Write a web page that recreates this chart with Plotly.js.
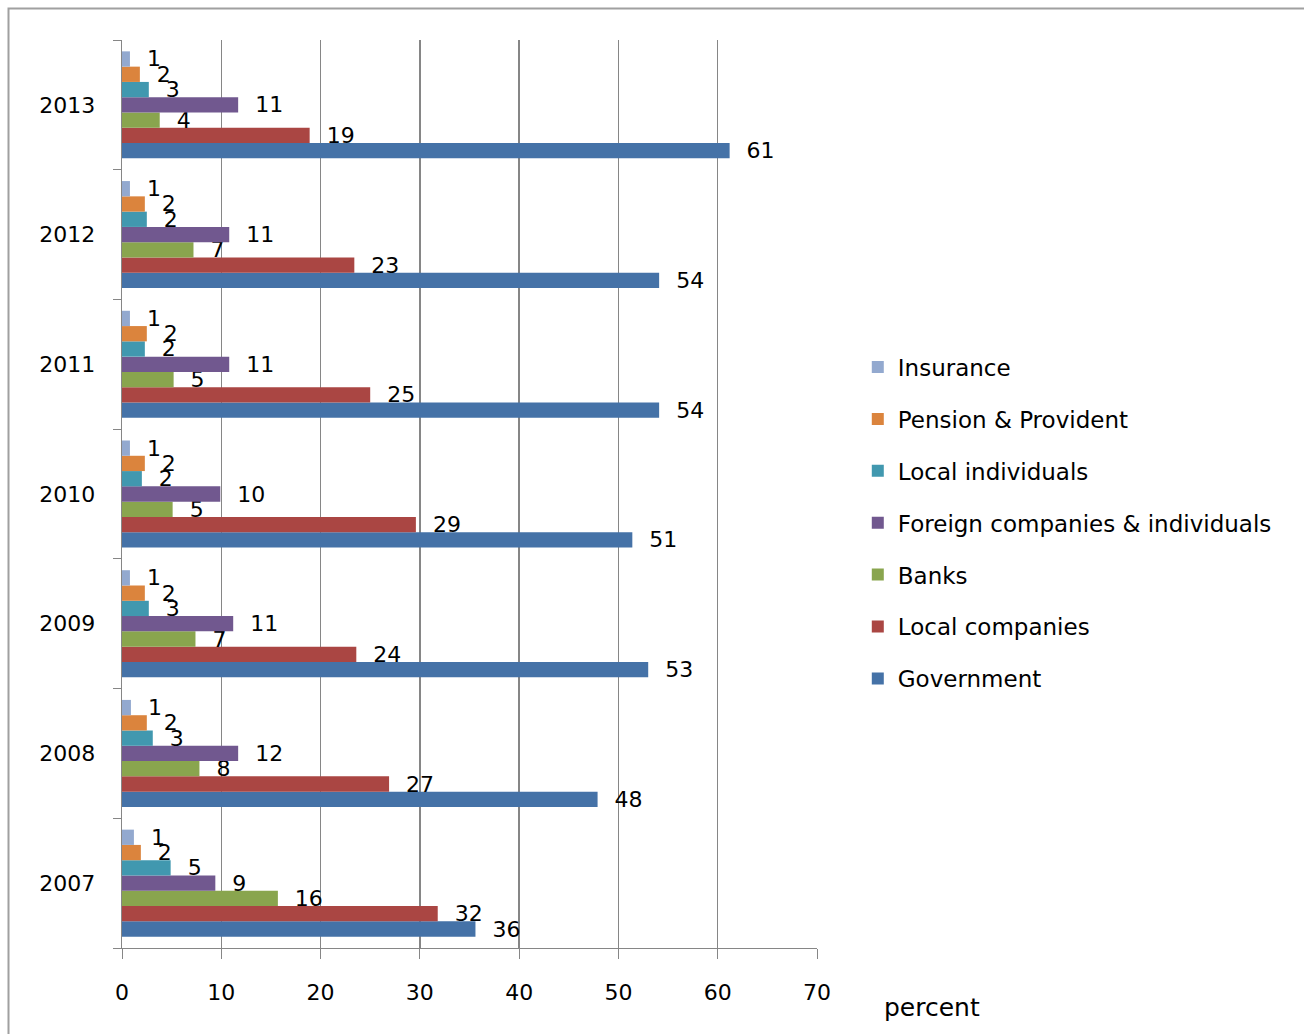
<!DOCTYPE html>
<html>
<head>
<meta charset="utf-8">
<script src="https://cdn.plot.ly/plotly-3.0.1.min.js"></script>
<style>
  html, body { margin: 0; padding: 0; background: #ffffff; }
  #chart { width: 1304px; height: 1034px; }
</style>
</head>
<body>
<div id="chart"></div>
<script>
// Categories (bottom to top)
const years = ['2007', '2008', '2009', '2010', '2011', '2012', '2013'];

// Bar lengths (percent)
const government       = [35.6, 47.9, 53.0, 51.4, 54.1, 54.1, 61.2];
const localCompanies   = [31.8, 26.9, 23.6, 29.6, 25.0, 23.4, 18.9];
const banks            = [15.7, 7.8, 7.4, 5.1, 5.2, 7.2, 3.8];
const foreign          = [9.4, 11.7, 11.2, 9.9, 10.8, 10.8, 11.7];
const localIndividuals = [4.9, 3.1, 2.7, 2.0, 2.3, 2.5, 2.7];
const pension          = [1.9, 2.5, 2.3, 2.3, 2.5, 2.3, 1.8];
const insurance        = [1.2, 0.9, 0.8, 0.8, 0.8, 0.8, 0.8];

// Data labels as printed on the chart
const governmentLabels       = [36, 48, 53, 51, 54, 54, 61];
const localCompaniesLabels   = [32, 27, 24, 29, 25, 23, 19];
const banksLabels            = [16, 8, 7, 5, 5, 7, 4];
const foreignLabels          = [9, 12, 11, 10, 11, 11, 11];
const localIndividualsLabels = [5, 3, 3, 2, 2, 2, 3];
const pensionLabels          = [2, 2, 2, 2, 2, 2, 2];
const insuranceLabels        = [1, 1, 1, 1, 1, 1, 1];

// Tick values
const xTicks = [0, 10, 20, 30, 40, 50, 60, 70];

const FONT = 'DejaVu Sans, Verdana, sans-serif';

const seriesDefs = [
  { name: 'Government', x: government, labels: governmentLabels, color: '#4572A7' },
  { name: 'Local companies', x: localCompanies, labels: localCompaniesLabels, color: '#AA4643' },
  { name: 'Banks', x: banks, labels: banksLabels, color: '#89A54E' },
  { name: 'Foreign companies &amp; individuals', x: foreign, labels: foreignLabels, color: '#71588F' },
  { name: 'Local individuals', x: localIndividuals, labels: localIndividualsLabels, color: '#4198AF' },
  { name: 'Pension &amp; Provident', x: pension, labels: pensionLabels, color: '#DB843D' },
  { name: 'Insurance', x: insurance, labels: insuranceLabels, color: '#93A9CF' }
];

const traces = seriesDefs.map((s, i) => ({
  type: 'bar',
  orientation: 'h',
  name: s.name,
  legendgroup: 'g' + i,
  legendrank: seriesDefs.length - i,
  y: years,
  x: s.x,
  text: s.labels.map(v => '\u00a0\u00a0' + v),
  textposition: 'outside',
  constraintext: 'none',
  cliponaxis: false,
  textfont: { family: FONT, size: 22, color: '#000000' },
  marker: { color: s.color, line: { width: 0 } },
  hoverinfo: 'x+y+name'
}));

const layout = {
  width: 1304,
  height: 1034,
  margin: { l: 122, r: 487, t: 40, b: 86 },
  paper_bgcolor: '#ffffff',
  plot_bgcolor: '#ffffff',
  barmode: 'group',
  bargap: 0.175,
  bargroupgap: 0,
  font: { family: FONT, size: 22, color: '#000000' },
  showlegend: true,
  legend: {
    x: 1.0587,
    xanchor: 'left',
    y: 0.468,
    yanchor: 'middle',
    traceorder: 'grouped',
    tracegroupgap: 19,
    font: { family: FONT, size: 23, color: '#000000' },
    bgcolor: 'rgba(0,0,0,0)',
    borderwidth: 0
  },
  xaxis: {
    range: [0, 70],
    tickvals: xTicks,
    ticktext: xTicks.map(String),
    showgrid: true,
    gridcolor: '#868686',
    gridwidth: 1.3,
    zeroline: false,
    showline: true,
    linecolor: '#868686',
    linewidth: 1.3,
    ticks: 'outside',
    ticklen: 10,
    tickcolor: '#868686',
    ticklabelstandoff: 14,
    tickfont: { family: FONT, size: 22, color: '#000000' },
    fixedrange: true
  },
  yaxis: {
    type: 'category',
    categoryorder: 'array',
    categoryarray: years,
    showgrid: false,
    zeroline: false,
    showline: true,
    linecolor: '#868686',
    linewidth: 1.3,
    ticks: 'outside',
    tickson: 'boundaries',
    ticklen: 8,
    tickcolor: '#868686',
    ticklabelstandoff: 21,
    tickfont: { family: FONT, size: 22, color: '#000000' },
    fixedrange: true
  },
  annotations: [
    {
      text: 'percent',
      xref: 'paper', yref: 'paper',
      x: 1.1655, y: -0.065,
      xanchor: 'center', yanchor: 'middle',
      showarrow: false,
      font: { family: FONT, size: 25, color: '#000000' }
    }
  ],
  shapes: [
    {
      type: 'rect',
      xref: 'paper', yref: 'paper',
      x0: (8.5 - 122) / 695, x1: (1320 - 122) / 695,
      y0: (948 - 1050) / 908, y1: (948 - 8.5) / 908,
      line: { color: '#a0a0a0', width: 2 },
      fillcolor: 'rgba(0,0,0,0)',
      layer: 'below'
    }
  ]
};

Plotly.newPlot('chart', traces, layout, { displayModeBar: false, staticPlot: true });
</script>
</body>
</html>
